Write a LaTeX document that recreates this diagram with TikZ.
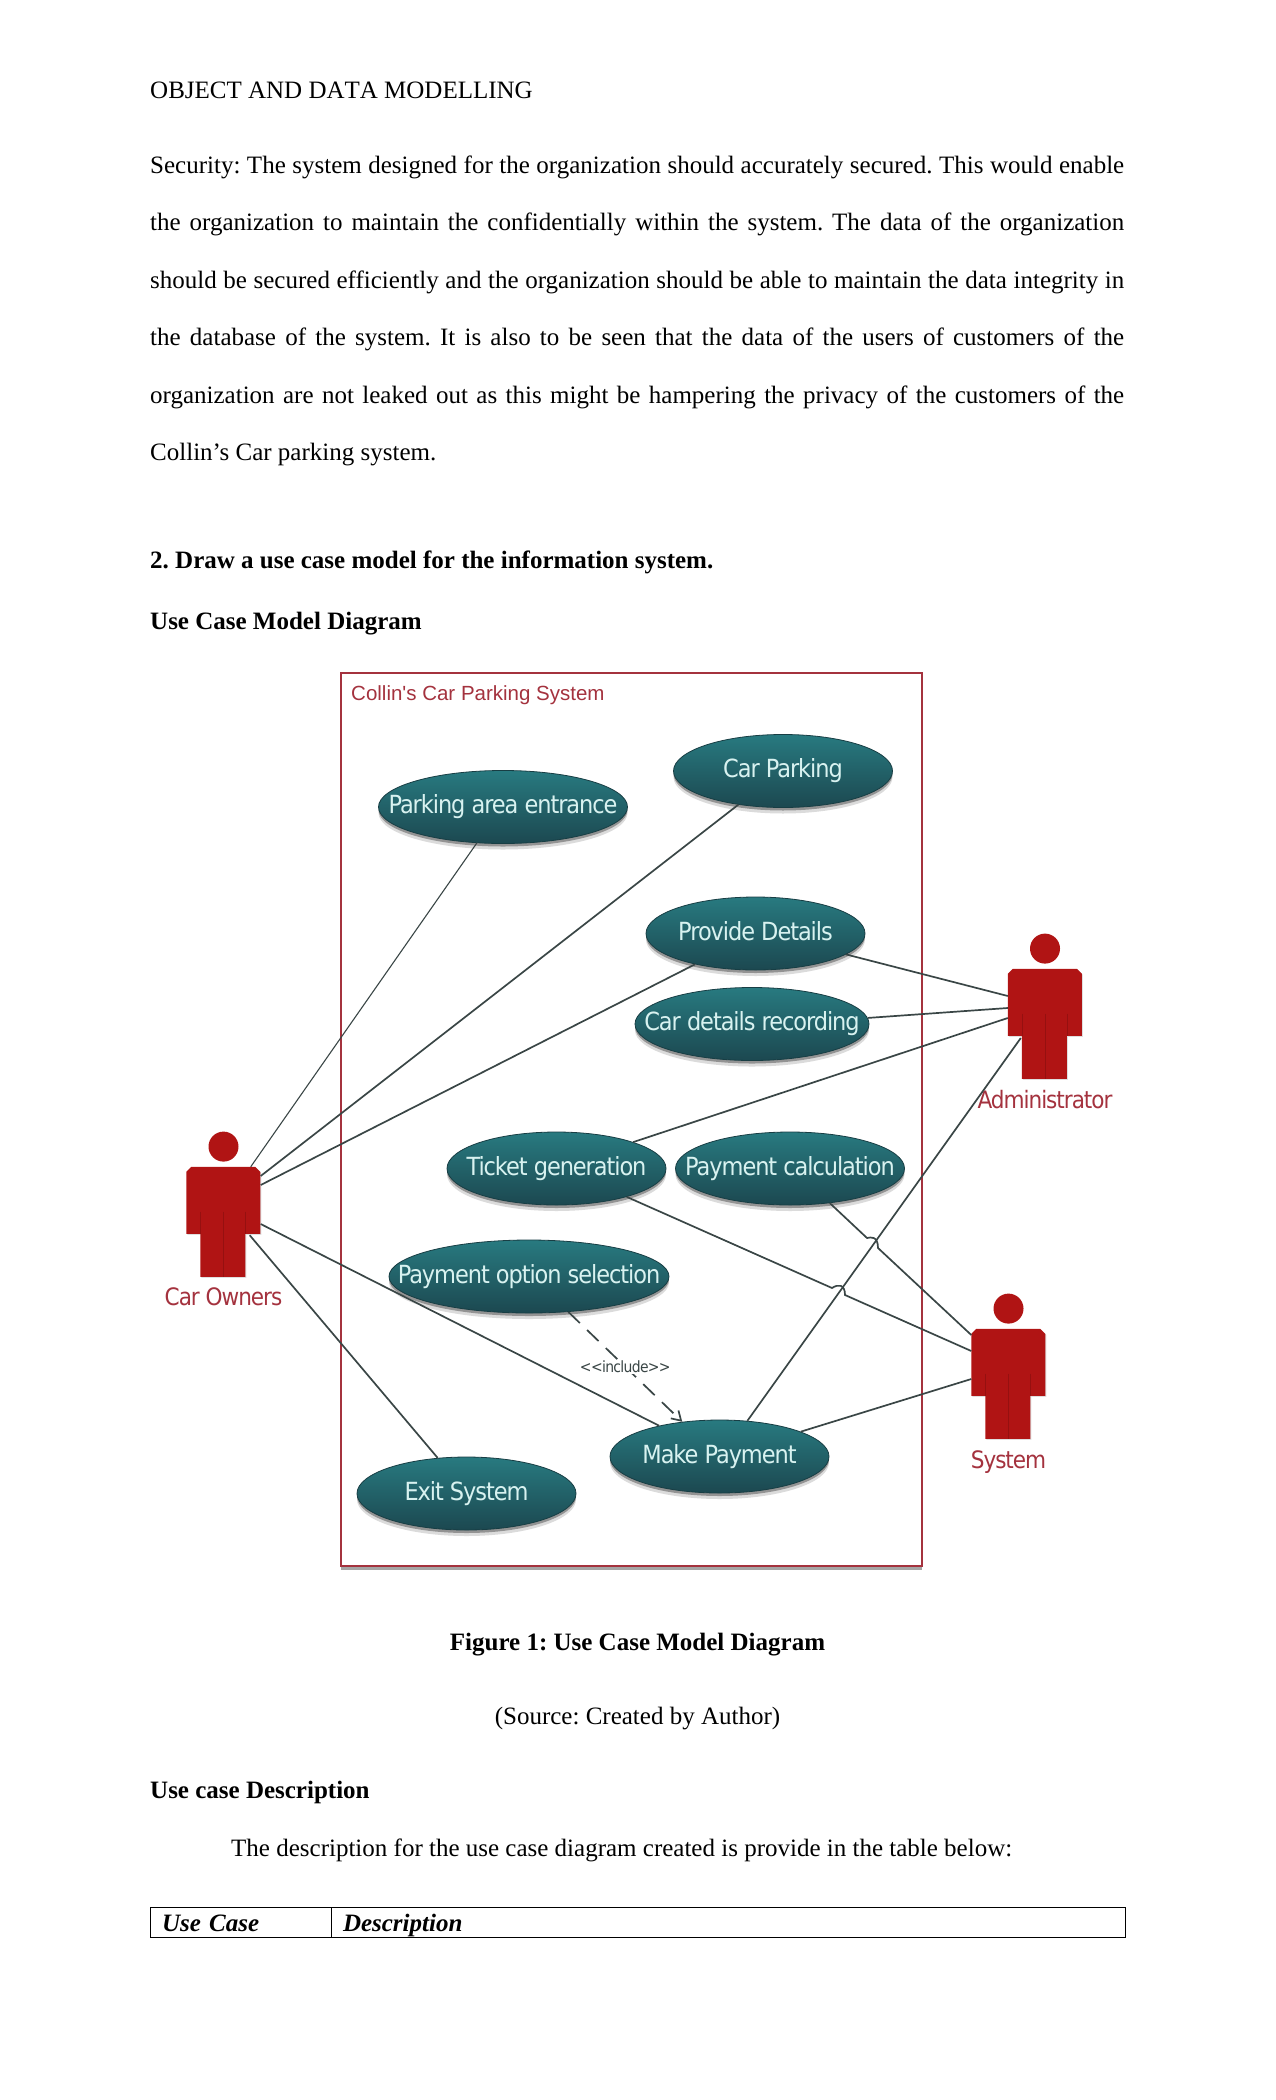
\documentclass[tikz,border=0pt]{standalone}
\usepackage{fontspec}
\usetikzlibrary{shapes.geometric,shadows,arrows.meta,positioning}
\setmainfont{Liberation Serif}
\newfontfamily\ucfont[FakeStretch=0.9,LetterSpace=-4.3]{DejaVu Sans}
\newfontfamily\titlefont{Liberation Sans}
\definecolor{teallight}{RGB}{40, 122, 128}
\definecolor{tealdark}{RGB}{28, 72, 80}
\definecolor{ucedge}{RGB}{24, 62, 68}
\definecolor{uctext}{RGB}{216, 242, 240}
\definecolor{actorred}{RGB}{176, 20, 20}
\definecolor{actorline}{RGB}{150, 16, 16}
\definecolor{frameline}{RGB}{164, 50, 62}
\definecolor{linkline}{RGB}{58, 70, 70}
\newcommand{\uclabel}[1]{\makebox[0pt]{\vphantom{Pg}#1}}
% body, head and name of one actor
\newcommand{\drawactor}[4]{
  \node [actorbody] (#1) at (#2) {};
  \begin{scope}[shift={(#1.north west)}]
    \fill [actorred, drop shadow={shadow xshift=1pt, shadow yshift=-1pt, opacity=0.25}]
      (5,0) -- (69,0) -- (74,5) -- (74,67) -- (59,67) -- (59,110) -- (14,110)
      -- (14,67) -- (0,67) -- (0,5) -- cycle;
    \draw [actorline, thin] (37,45) -- (37,110);
    \draw [actorline, very thin] (14,45) -- (14,67) (59,45) -- (59,67);
  \end{scope}
  \node [actorhead, above=5pt of #1.north] (#1head) {};
  \node [actorname] (#1name) at ([yshift=-#4pt]#1.south) {#3};
}

\begin{document}
\frenchspacing
\begin{tikzpicture}[x=1pt, y=-1pt]
    \tikzstyle{pagetext} = [anchor=base west, inner sep=0pt, font=\fontsize{25}{30}\selectfont];
    \tikzstyle{pagecentre} = [anchor=base, inner sep=0pt, font=\fontsize{25}{30}\selectfont];
    \tikzstyle{cellbox} = [rectangle, draw=black, line width=0.9pt, anchor=north west, minimum height=30pt,
    text height=20pt, text depth=2pt, inner xsep=12pt, inner ysep=0pt, outer sep=0pt,
    font=\fontsize{25}{30}\selectfont\bfseries\itshape];
    \tikzstyle{sysframe} = [rectangle, draw=frameline, line width=1.6pt, fill=white, anchor=north west,
    minimum width=581pt, minimum height=893pt, inner sep=0pt,
    drop shadow={shadow xshift=0pt, shadow yshift=-4pt, opacity=0.5, fill=black!70}];
    \tikzstyle{usecase} = [ellipse, draw=ucedge, thick, top color=teallight, bottom color=tealdark,
    minimum height=73pt, inner sep=0pt, text=uctext, font=\ucfont\fontsize{25}{30}\selectfont,
    drop shadow={shadow xshift=0pt, shadow yshift=-6pt, opacity=0.2, fill=black!70},
    drop shadow={shadow xshift=0pt, shadow yshift=-3pt, opacity=0.5, fill=black!70}];
    \tikzstyle{actorbody} = [rectangle, minimum width=74pt, minimum height=110pt, inner sep=0pt];
    \tikzstyle{actorhead} = [circle, fill=actorred, minimum size=30pt, inner sep=0pt];
    \tikzstyle{actorname} = [inner sep=0pt, text=frameline, font=\ucfont\fontsize{24}{29}\selectfont];
    \tikzstyle{link} = [draw=linkline, line width=1.7pt];
    \tikzstyle{inclabel} = [fill=white, inner sep=1pt, text=linkline, font=\ucfont\fontsize{15.5}{18}\selectfont];
    \useasboundingbox (0,0) rectangle (1275,2100);

    % Page text above the diagram
    \node [pagetext] (header) at (150,99) {\addfontfeature{Kerning=Off}OBJECT AND DATA MODELLING};
    \node [pagetext] (sec1) at (150,174) {\makebox[974pt][s]{Security: The system designed for the organization should accurately secured. This would enable}};
    \node [pagetext] (sec2) at (150,231) {\makebox[974pt][s]{the organization to maintain the confidentially within the system. The data of the organization}};
    \node [pagetext] (sec3) at (150,288) {\makebox[974pt][s]{should be secured efficiently and the organization should be able to maintain the data integrity in}};
    \node [pagetext] (sec4) at (150,345.5) {\makebox[974pt][s]{the database of the system. It is also to be seen that the data of the users of customers of the}};
    \node [pagetext] (sec5) at (150,403) {\makebox[974pt][s]{organization are not leaked out as this might be hampering the privacy of the customers of the}};
    \node [pagetext] (sec6) at (150,460) {Collin’s Car parking system.};
    \node [pagetext] (question) at (150,568) {\textbf{2. Draw a use case model for the information system.}};
    \node [pagetext] (modelhead) at (150,629) {\textbf{Use Case Model Diagram}};

    % System boundary
    \node [sysframe] (frame) at (340,672) {};
    \node [anchor=base west, inner sep=0pt, text=frameline, font=\titlefont\fontsize{20.5}{24}\selectfont]
      (frametitle) at (351,700) {Collin's Car Parking System};

    % Use cases
    \node [usecase, minimum width=249pt] (entrance) at (503,807) {\uclabel{Parking area entrance}};
    \node [usecase, minimum width=219pt] (parking) at (783,771) {\uclabel{Car Parking}};
    \node [usecase, minimum width=219pt] (provide) at (755.5,933.5) {\uclabel{Provide Details}};
    \node [usecase, minimum width=234pt] (recording) at (752,1024) {\uclabel{Car details recording}};
    \node [usecase, minimum width=219pt] (ticket) at (556.5,1168.5) {\uclabel{Ticket generation}};
    \node [usecase, minimum width=229pt] (calc) at (790,1168.5) {\uclabel{Payment calculation}};
    \node [usecase, minimum width=280pt] (option) at (529,1276.5) {\uclabel{Payment option selection}};
    \node [usecase, minimum width=219pt] (payment) at (719.5,1456.5) {\uclabel{Make Payment}};
    \node [usecase, minimum width=219pt] (exit) at (466.5,1493.5) {\uclabel{Exit System}};

    % Actors
    \drawactor{owner}{223.5,1222}{Car Owners}{20}
    \drawactor{admin}{1045,1024}{Administrator}{20}
    \drawactor{sys}{1008.5,1384}{System}{23}

    % Hops over the payment link
    \coordinate (hopa) at (832,1288);
    \coordinate (hopb) at (845,1295);
    \coordinate (hopc) at (867,1238);
    \coordinate (hopd) at (878,1248);

    % Drawing the links
    \draw [link, line width=1.1pt] ([xshift=-10pt]owner.north east) -- (entrance.234.6);
    \draw [link] ([yshift=46pt]owner.east) -- (parking.217.7);
    \draw [link] ([yshift=37pt]owner.east) -- (provide.207.5);
    \draw [link] ([yshift=-2pt]owner.east) -- (payment.153.4);
    \draw [link] ([xshift=-11pt,yshift=42pt]owner.south east) -- (exit.129.4);
    \draw [link] (provide.-13.8) -- ([yshift=28pt]admin.west);
    \draw [link] (recording.3.5) -- ([yshift=16pt]admin.west);
    \draw [link] (ticket.19.3) -- ([yshift=6pt]admin.west);
    \draw [link] (payment.52.2) -- ([xshift=13pt,yshift=-14pt]admin.west);
    \draw [link] (payment.17) -- ([yshift=5pt]sys.west);
    \draw [link] (ticket.-22.7) -- (hopa) .. controls (838,1284) and (845,1284) .. (hopb) -- ([yshift=33pt]sys.west);
    \draw [link] (calc.-41.1) -- (hopc) .. controls (871,1237) and (878,1236) .. (hopd) -- ([yshift=49pt]sys.west);
    \draw [link, dash pattern=on 16pt off 10pt, -{Straight Barb[length=9pt,width=11pt]}]
      (option.-42.7) -- node [inclabel] (include) {<{}<include>{}>} (payment.137.5);

    % Page text below the diagram
    \node [pagecentre] (caption) at (637.5,1650) {\textbf{Figure 1: Use Case Model Diagram}};
    \node [pagecentre] (source) at (637.5,1724) {(Source: Created by Author)};
    \node [pagetext] (deschead) at (150,1798) {\textbf{Use case Description}};
    \node [pagetext] (descline) at (231,1856) {The description for the use case diagram created is provide in the table below:};
    \node [cellbox, text width=157pt] (usecell) at (150,1907) {Use Case};
    \node [cellbox, text width=770pt] (desccell) at (usecell.north east) {Description};
\end{tikzpicture}
\end{document}
